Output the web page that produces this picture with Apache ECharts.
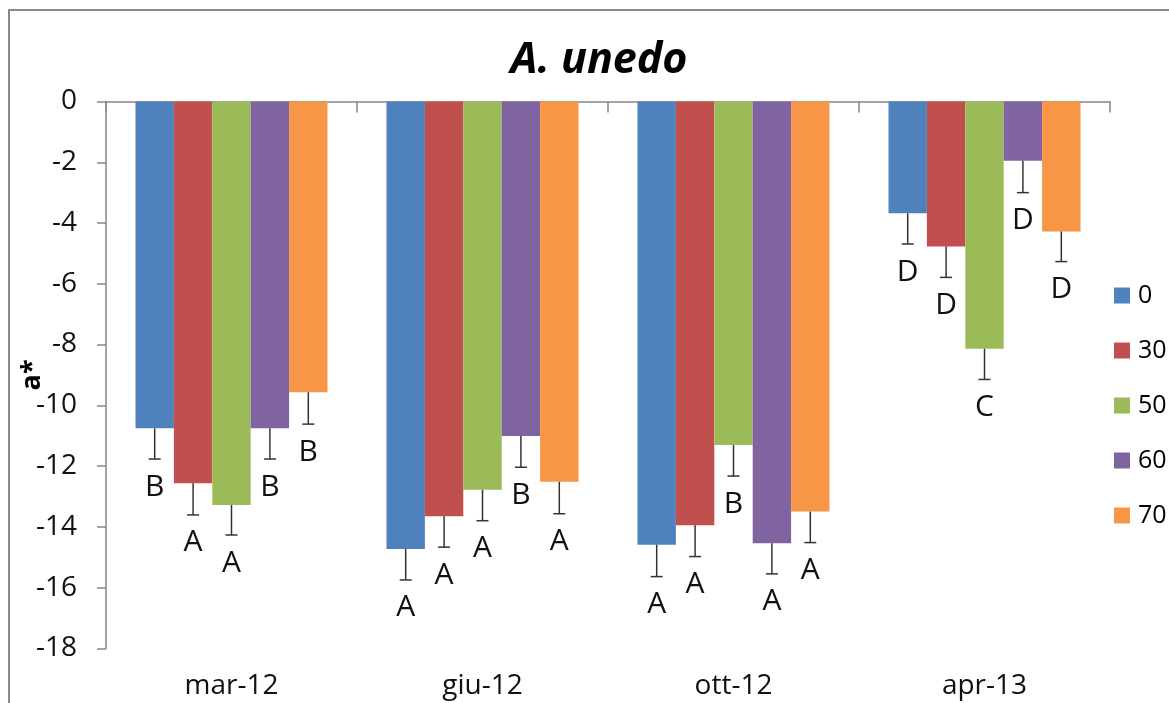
<!DOCTYPE html>
<html>
<head>
<meta charset="utf-8">
<script src="https://cdn.jsdelivr.net/npm/echarts@6/dist/echarts.min.js"></script>
<style>
  html, body { margin: 0; padding: 0; background: #fff; }
  #chart { width: 1169px; height: 703px; }
</style>
</head>
<body>
<div id="chart"></div>
<script>
// Sampling dates and shading treatments (%)
const categories = ['mar-12', 'giu-12', 'ott-12', 'apr-13'];
const treatments = ['0', '30', '50', '60', '70'];

// Mean a* per treatment, one value per date
const a0  = [-10.76, -14.73, -14.59, -3.68];
const a30 = [-12.57, -13.65, -13.95, -4.77];
const a50 = [-13.28, -12.78, -11.31, -8.14];
const a60 = [-10.76, -11.01, -14.54, -1.95];
const a70 = [-9.57, -12.52, -13.50, -4.28];

// Standard error for each mean
const e0  = [1.01, 1.02, 1.05, 1.01];
const e30 = [1.04, 1.02, 1.03, 1.02];
const e50 = [0.99, 1.02, 1.02, 1.01];
const e60 = [1.01, 1.03, 1.01, 1.05];
const e70 = [1.05, 1.05, 1.02, 0.99];

// Significance letters
const l0  = ['B', 'A', 'A', 'D'];
const l30 = ['A', 'A', 'A', 'D'];
const l50 = ['A', 'A', 'B', 'C'];
const l60 = ['B', 'B', 'A', 'D'];
const l70 = ['B', 'A', 'A', 'D'];

const yTicks = [0, -2, -4, -6, -8, -10, -12, -14, -16, -18];

const means = [a0, a30, a50, a60, a70];
const errs = [e0, e30, e50, e60, e70];
const letters = [l0, l30, l50, l60, l70];
const colors = ['#4F81BD', '#C0504D', '#9BBB59', '#8064A2', '#F79646'];
const CAT_GAP = 0.235;
const FONT = '"Open Sans", "Noto Sans", sans-serif';

const chart = echarts.init(document.getElementById('chart'));

const barSeries = treatments.map((name, s) => ({
  name: name,
  type: 'bar',
  xAxisIndex: 0,
  barGap: '0%',
  barCategoryGap: (CAT_GAP * 100) + '%',
  itemStyle: { color: colors[s] },
  data: means[s]
}));

// Error whiskers (downward only) and letters under each bar
const errSeries = treatments.map((name, s) => ({
  type: 'custom',
  xAxisIndex: 0,
  silent: true,
  z: 5,
  clip: false,
  data: means[s].map((v, i) => [i, v, errs[s][i]]),
  renderItem: function (params, api) {
    const ci = api.value(0), v = api.value(1), e = api.value(2);
    const band = api.size([1, 0])[0];
    const bw = band * (1 - CAT_GAP) / treatments.length;
    const c = api.coord([ci, v]);
    const x = c[0] + (s - (treatments.length - 1) / 2) * bw;
    const y0 = c[1];
    const y1 = api.coord([ci, v - e])[1];
    const cap = 6;
    const ls = { stroke: '#333', lineWidth: 1.5 };
    return {
      type: 'group',
      children: [
        { type: 'line', shape: { x1: x, y1: y0, x2: x, y2: y1 }, style: ls },
        { type: 'line', shape: { x1: x - cap, y1: y1, x2: x + cap, y2: y1 }, style: ls },
        { type: 'text', style: {
            text: letters[s][params.dataIndex],
            x: x, y: y1 + 28,
            align: 'center', verticalAlign: 'middle',
            font: '30px ' + FONT, fill: '#111'
        } }
      ]
    };
  }
}));

chart.setOption({
  animation: false,
  backgroundColor: '#fff',
  title: {
    text: 'A. unedo',
    left: 594, top: 34, textAlign: 'center',
    textStyle: { fontFamily: FONT, fontSize: 43, fontWeight: 'bold', fontStyle: 'italic', color: '#000' }
  },
  graphic: [{
    type: 'rect',
    shape: { x: 9, y: 10, width: 1300, height: 900 },
    style: { fill: 'none', stroke: '#8a8a8a', lineWidth: 2 },
    silent: true
  }],
  legend: {
    orient: 'vertical',
    left: 1109, top: 278,
    icon: 'rect',
    itemWidth: 16, itemHeight: 16,
    itemGap: 30,
    textStyle: { fontFamily: FONT, fontSize: 25, color: '#000', padding: [0, 0, 0, 3] },
    data: treatments
  },
  grid: { left: 106, top: 101.5, right: 59, bottom: 54.7, containLabel: false, outerBoundsMode: 'none' },
  xAxis: [{
    type: 'category',
    data: categories,
    position: 'bottom',
    axisLine: { show: false },
    axisTick: { show: false },
    axisLabel: { fontFamily: FONT, fontSize: 28, color: '#111', margin: 24 }
  }, {
    type: 'category',
    data: categories,
    position: 'top',
    axisLine: { show: true, lineStyle: { color: '#868686', width: 1.5 } },
    axisTick: { show: true, inside: true, length: 11, lineStyle: { color: '#868686', width: 1.5 } },
    axisLabel: { show: false }
  }],
  yAxis: {
    type: 'value',
    min: yTicks[yTicks.length - 1], max: yTicks[0], interval: 2,
    name: 'a*',
    nameLocation: 'middle',
    nameGap: 60,
    nameMoveOverlap: false,
    nameTextStyle: { fontFamily: FONT, fontSize: 27, fontWeight: 'bold', color: '#000' },
    axisLine: { show: true, lineStyle: { color: '#868686', width: 1.5 } },
    axisTick: { show: true, length: 9, lineStyle: { color: '#868686', width: 1.5 } },
    splitLine: { show: false },
    axisLabel: { fontFamily: FONT, fontSize: 28, color: '#111', margin: 29 }
  },
  series: barSeries.concat(errSeries)
});
</script>
</body>
</html>
